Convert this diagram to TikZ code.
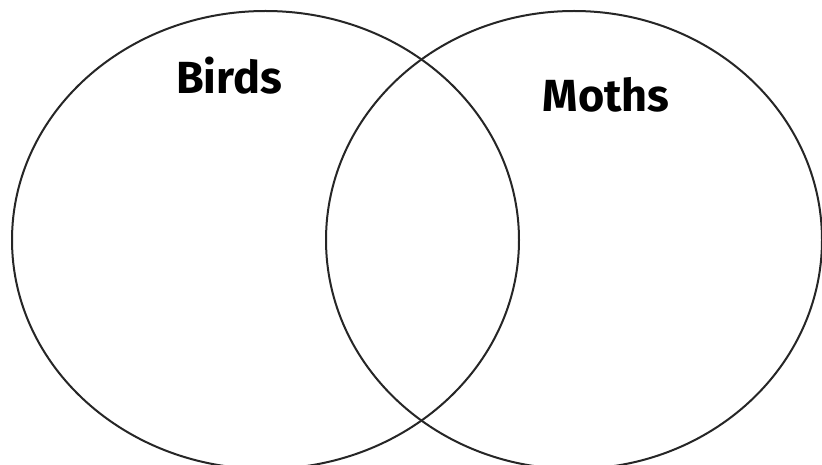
\documentclass[tikz,border=0pt]{standalone}
\usepackage{fontspec}
\setmainfont{Fira Sans}
\usepackage{tikz}

\begin{document}
\begin{tikzpicture}[
    x=1pt, y=-1pt,
    every node/.style={font=\fontsize{45}{50}\selectfont\bfseries},
    setline/.style={draw=black!85, line width=2pt},
    setlabel/.style={anchor=base, inner sep=0pt}
]

\useasboundingbox[fill=white] (0,0) rectangle (822,465);

% Left: birds set
\draw[setline] (265.5,240) ellipse [x radius=253.5, y radius=229];
\node[setlabel] (birds) at (229,94) {Birds};

% Right: moths set
\draw[setline] (574,240) ellipse [x radius=248, y radius=229];
\node[setlabel] (moths) at (606,112) {Moths};

\end{tikzpicture}
\end{document}
